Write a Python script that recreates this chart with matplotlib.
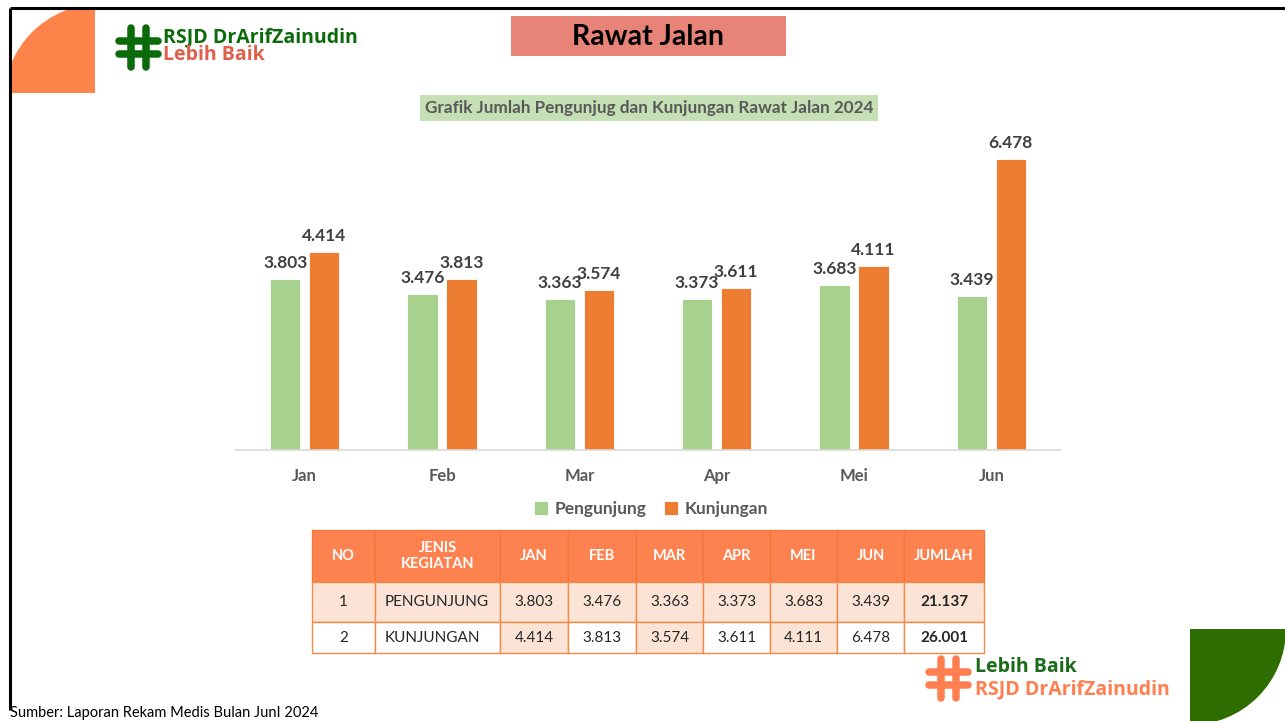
import numpy as np
import matplotlib
matplotlib.use("Agg")
import matplotlib.pyplot as plt
from matplotlib.patches import Rectangle, Circle, Wedge

plt.rcParams['font.family'] = ['Lato', 'DejaVu Sans']

# Data
bulan = ['Jan', 'Feb', 'Mar', 'Apr', 'Mei', 'Jun']
pengunjung = [3803, 3476, 3363, 3373, 3683, 3439]
kunjungan = [4414, 3813, 3574, 3611, 4111, 6478]
seri = ['Pengunjung', 'Kunjungan']
judul = 'Grafik Jumlah Pengunjug dan Kunjungan Rawat Jalan 2024'
kolom = ['NO', 'JENIS\nKEGIATAN', 'JAN', 'FEB', 'MAR', 'APR', 'MEI', 'JUN', 'JUMLAH']

HIJAU = '#a9d18e'
ORANYE = '#ed7d31'
GRIS = '#595959'

W, H = 1285, 721
fig = plt.figure(figsize=(W / 100, H / 100), dpi=100)


def fmt(v):
    return f"{v:,}".replace(",", ".")


def caja(x0, y0, x1, y1):
    # pixel box (top-left origin) -> figure fractions
    return [x0 / W, 1 - y1 / H, (x1 - x0) / W, (y1 - y0) / H]


def gato(axe, x0, y0, s, color):
    # simbolo "#" del logo, dibujado con trazos rectos
    for dx in (0.33, 0.67):
        axe.plot([x0 + dx * s, x0 + dx * s], [y0 + 0.07 * s, y0 + 0.93 * s],
                 color=color, lw=5.4, solid_capstyle='round')
    for dy in (0.36, 0.64):
        axe.plot([x0 + 0.07 * s, x0 + 0.93 * s], [y0 + dy * s, y0 + dy * s],
                 color=color, lw=5.4, solid_capstyle='round')


# Fondo / decoraciones en coordenadas de pixel
bg = fig.add_axes([0, 0, 1, 1])
bg.set_xlim(0, W)
bg.set_ylim(H, 0)
bg.axis('off')

# marco negro
bg.plot([10, W], [8, 8], color='black', lw=2.2, solid_capstyle='butt')
bg.plot([10, 10], [8, 710], color='black', lw=2.2, solid_capstyle='butt')

# cuarto de circulo naranja (arriba izquierda)
clip1 = Rectangle((11, 9), 84, 84, transform=bg.transData)
c1 = Circle((100, 100), 96, color='#fe844c', lw=0)
bg.add_patch(c1)
c1.set_clip_path(clip1)

# cuarto de circulo verde (abajo derecha)
bg.add_patch(Wedge((1190, 629), 96, 0, 90, color='#2e6d00', lw=0))

LOGO = {'family': ['Open Sans', 'DejaVu Sans'], 'fontsize': 14, 'fontweight': 'bold'}

# logo arriba
gato(bg, 116, 25, 45, '#0b6b0b')
bg.text(163, 37, 'RSJD DrArifZainudin', color='#0b6b0b', ha='left', va='center', **LOGO)
bg.text(163, 55, 'Lebih Baik', color='#e0604e', ha='left', va='center', **LOGO)

# logo abajo
gato(bg, 926, 656, 45, '#ff7f50')
bg.text(975, 667, 'Lebih Baik', color='#1a6b1a', ha='left', va='center', **LOGO)
bg.text(975, 689, 'RSJD DrArifZainudin', color='#ff7f50', ha='left', va='center', **LOGO)

# encabezado
bg.add_patch(Rectangle((511, 16), 275, 40, color='#e88377', lw=0))
bg.text(648.5, 37, 'Rawat Jalan', fontsize=20.5, fontweight='bold', color='black', ha='center', va='center')

# titulo del grafico
bg.add_patch(Rectangle((420, 95), 458, 26, color='#c5e0b4', lw=0))
bg.text(649, 108, judul, fontsize=12.3, fontweight='bold', color=GRIS, ha='center', va='center')

# fuente
bg.text(10, 713, 'Sumber: Laporan Rekam Medis Bulan JunI 2024', fontsize=10.5, color='black',
        ha='left', va='center')

# Grafico de barras
ax = fig.add_axes(caja(236, 136, 1060, 450))
x = np.arange(len(bulan))
ancho = 0.22
desp = 0.142
b1 = ax.bar(x - desp, pengunjung, ancho, color=HIJAU, edgecolor='white', linewidth=0.6, label=seri[0])
b2 = ax.bar(x + desp, kunjungan, ancho, color=ORANYE, edgecolor='white', linewidth=0.6, label=seri[1])
for barras in (b1, b2):
    for b in barras:
        ax.annotate(fmt(int(b.get_height())), (b.get_x() + b.get_width() / 2, b.get_height()),
                    xytext=(0, 11.5), textcoords='offset points', ha='center', va='center',
                    fontsize=12.5, fontweight='bold', color='#404040')
ax.set_xlim(-0.5, len(bulan) - 0.5)
ax.set_ylim(0, 7000)
ax.set_xticks(x)
ax.set_xticklabels(bulan, fontsize=12, fontweight='bold', color=GRIS)
ax.tick_params(axis='x', length=0, pad=13)
ax.set_yticks([])
for s in ['top', 'right', 'left']:
    ax.spines[s].set_visible(False)
ax.spines['bottom'].set_color('#d9d9d9')
ax.spines['bottom'].set_linewidth(1.2)
ax.patch.set_alpha(0)
leg = ax.legend(loc='center', bbox_to_anchor=(651 / W, 1 - 509 / H), bbox_transform=fig.transFigure,
                ncol=2, frameon=False, handlelength=0.8, handleheight=0.8, handletextpad=0.4,
                columnspacing=1.0, prop={'size': 12.5, 'weight': 'bold'})
for t in leg.get_texts():
    t.set_color(GRIS)

# Tabla
tx = fig.add_axes(caja(312, 530, 984, 653))
tx.axis('off')
filas = []
for i, (nombre, vals) in enumerate([('PENGUNJUNG', pengunjung), ('KUNJUNGAN', kunjungan)]):
    filas.append([str(i + 1), nombre] + [fmt(v) for v in vals] + [fmt(sum(vals))])

anchos = [63, 125, 68, 68, 67, 67, 67, 67, 80]
altos = [52, 40, 31]
MELOCOTON = '#fbe4d5'
colores = [[MELOCOTON] * 9,
           ['white', 'white', MELOCOTON, 'white', MELOCOTON, 'white', MELOCOTON, 'white', 'white']]
tabla = tx.table(cellText=filas, colLabels=kolom, cellColours=colores,
                 colWidths=[a / sum(anchos) for a in anchos], bbox=[0, 0, 1, 1], cellLoc='center')
tabla.auto_set_font_size(False)
for (r, c), celda in tabla.get_celld().items():
    celda.set_height(altos[r])
    celda.set_edgecolor('#f0894a')
    celda.set_linewidth(1.0)
    txt = celda.get_text()
    if r == 0:
        celda.set_facecolor('#fd8250')
        celda.set_edgecolor('#f07a3e')
        txt.set_color('white')
        txt.set_fontweight('bold')
        txt.set_fontsize(10.5)
        txt.set_linespacing(1.2)
    else:
        txt.set_color('#262626')
        txt.set_fontsize(11)
        if c == 8:
            txt.set_fontweight('bold')
        if c == 1:
            celda._loc = 'left'
            celda.PAD = 0.08
            txt.set_ha('left')

fig.savefig('out.png', dpi=100)
